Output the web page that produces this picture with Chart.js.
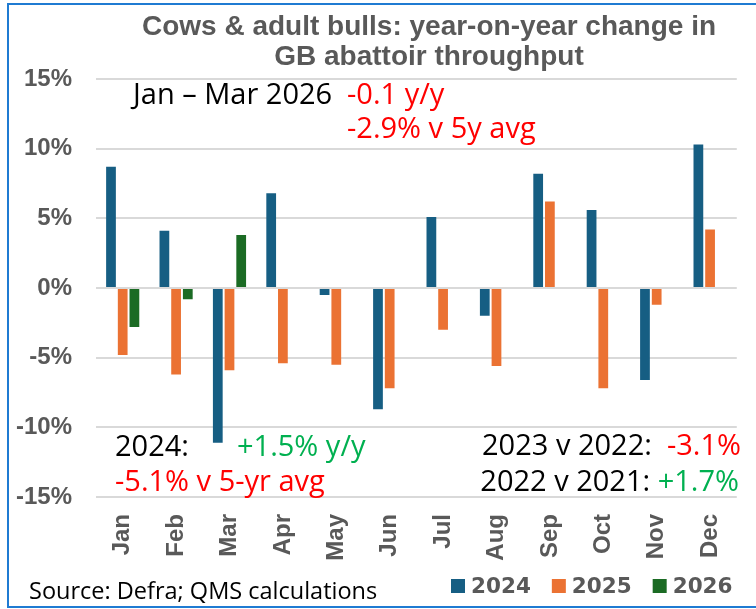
<!DOCTYPE html>
<html>
<head>
<meta charset="utf-8">
<script src="https://cdn.jsdelivr.net/npm/chart.js@4"></script>
<style>
  html, body { margin: 0; padding: 0; background: #ffffff; }
  #wrap { width: 756px; height: 609px; position: relative; }
</style>
</head>
<body>
<div id="wrap"><canvas id="c" width="756" height="609"></canvas></div>
<script>
// ---- data ----
const categories = ['Jan', 'Feb', 'Mar', 'Apr', 'May', 'Jun', 'Jul', 'Aug', 'Sep', 'Oct', 'Nov', 'Dec'];
const seriesNames = ['2024', '2025', '2026'];
const values2024 = [8.7, 4.1, -11.1, 6.8, -0.5, -8.7, 5.1, -2.0, 8.2, 5.6, -6.6, 10.3];
const values2025 = [-4.8, -6.2, -5.9, -5.4, -5.5, -7.2, -3.0, -5.6, 6.2, -7.2, -1.2, 4.2];
const values2026 = [-2.8, -0.8, 3.8, null, null, null, null, null, null, null, null, null];
const yTicks = [-15, -10, -5, 0, 5, 10, 15];
const titleLines = ['Cows & adult bulls: year-on-year change in', 'GB abattoir throughput'];
const sourceText = 'Source: Defra; QMS calculations';

// ---- styles ----
const colors = ['#165E83', '#EB7233', '#1B6B24'];
const RED = '#FF0000', GREEN = '#00B050', BLACK = '#000000', GREY = '#595959';
const annFont = '29px "Open Sans"';

// annotation text pieces: [text, colour]
const annotations = [
  { x: 133, y: 104, align: 'left', parts: [['Jan \u2013 Mar 2026', BLACK]] },
  { x: 347, y: 104, align: 'left', parts: [['-0.1 y/y', RED]] },
  { x: 347, y: 138, align: 'left', parts: [['-2.9% v 5y avg', RED]] },
  { x: 115, y: 456, align: 'left', parts: [['2024:', BLACK]] },
  { x: 237, y: 456, align: 'left', parts: [['+1.5% y/y', GREEN]] },
  { x: 115, y: 491, align: 'left', parts: [['-5.1% v 5-yr avg', RED]] },
  { x: 741, y: 455, align: 'right', parts: [['2023 v 2022:  ', BLACK], ['-3.1%', RED]] },
  { x: 739, y: 491, align: 'right', parts: [['2022 v 2021: ', BLACK], ['+1.7%', GREEN]] }
];

const extras = {
  id: 'extras',
  afterDraw(chart) {
    const ctx = chart.ctx;
    ctx.save();
    // title
    ctx.font = 'bold 28px "Liberation Sans", Arial, sans-serif';
    ctx.fillStyle = GREY;
    ctx.textAlign = 'center';
    ctx.textBaseline = 'alphabetic';
    ctx.fillText(titleLines[0], 429, 35);
    ctx.fillText(titleLines[1], 429, 65);
    // annotations
    ctx.font = annFont;
    ctx.textAlign = 'left';
    annotations.forEach(a => {
      let total = 0;
      a.parts.forEach(p => total += ctx.measureText(p[0]).width);
      let x = a.align === 'right' ? a.x - total : a.x;
      a.parts.forEach(p => {
        ctx.fillStyle = p[1];
        ctx.fillText(p[0], x, a.y);
        x += ctx.measureText(p[0]).width;
      });
    });
    // source
    ctx.font = '23.5px "Open Sans"';
    ctx.fillStyle = BLACK;
    ctx.fillText(sourceText, 29, 599);
    // legend (from datasets)
    ctx.font = 'bold 21.5px "DejaVu Sans"';
    let lx = 451;
    chart.data.datasets.forEach(ds => {
      ctx.fillStyle = ds.backgroundColor;
      ctx.fillRect(lx, 579, 14, 14);
      ctx.fillStyle = GREY;
      ctx.fillText(ds.label, lx + 20, 593);
      lx += 20 + ctx.measureText(ds.label).width + 21;
    });
    // frame
    ctx.strokeStyle = '#1F7BD2';
    ctx.lineWidth = 2;
    ctx.beginPath();
    ctx.moveTo(756, 4); ctx.lineTo(8, 4); ctx.lineTo(8, 607); ctx.lineTo(756, 607);
    ctx.stroke();
    ctx.restore();
  }
};

new Chart(document.getElementById('c'), {
  type: 'bar',
  data: {
    labels: categories,
    datasets: [
      { label: seriesNames[0], data: values2024, backgroundColor: colors[0] },
      { label: seriesNames[1], data: values2025, backgroundColor: colors[1] },
      { label: seriesNames[2], data: values2026, backgroundColor: colors[2] }
    ]
  },
  options: {
    responsive: false,
    animation: false,
    devicePixelRatio: 1,
    layout: { padding: { left: 8, right: 3, top: 79, bottom: 40 } },
    datasets: { bar: { categoryPercentage: 0.6575, barPercentage: 0.833 } },
    plugins: {
      legend: { display: false },
      tooltip: { enabled: false },
      title: { display: false }
    },
    scales: {
      x: {
        grid: { display: false, drawTicks: false },
        border: { display: false },
        ticks: {
          color: GREY,
          minRotation: 90, maxRotation: 90,
          padding: 17,
          font: { family: '"Liberation Sans", Arial, sans-serif', size: 24, weight: 'bold' }
        },
        afterFit(s) { s.height = 72; }
      },
      y: {
        min: -15, max: 15,
        afterBuildTicks(s) { s.ticks = yTicks.map(v => ({ value: v })); },
        grid: { color: '#D9D9D9', lineWidth: 2, drawTicks: false },
        border: { display: false },
        ticks: {
          color: GREY,
          padding: 24,
          font: { family: '"Liberation Sans", Arial, sans-serif', size: 24, weight: 'bold' },
          callback: v => v + '%'
        },
        afterFit(s) { s.width = 88; }
      }
    }
  },
  plugins: [extras]
});
</script>
</body>
</html>
